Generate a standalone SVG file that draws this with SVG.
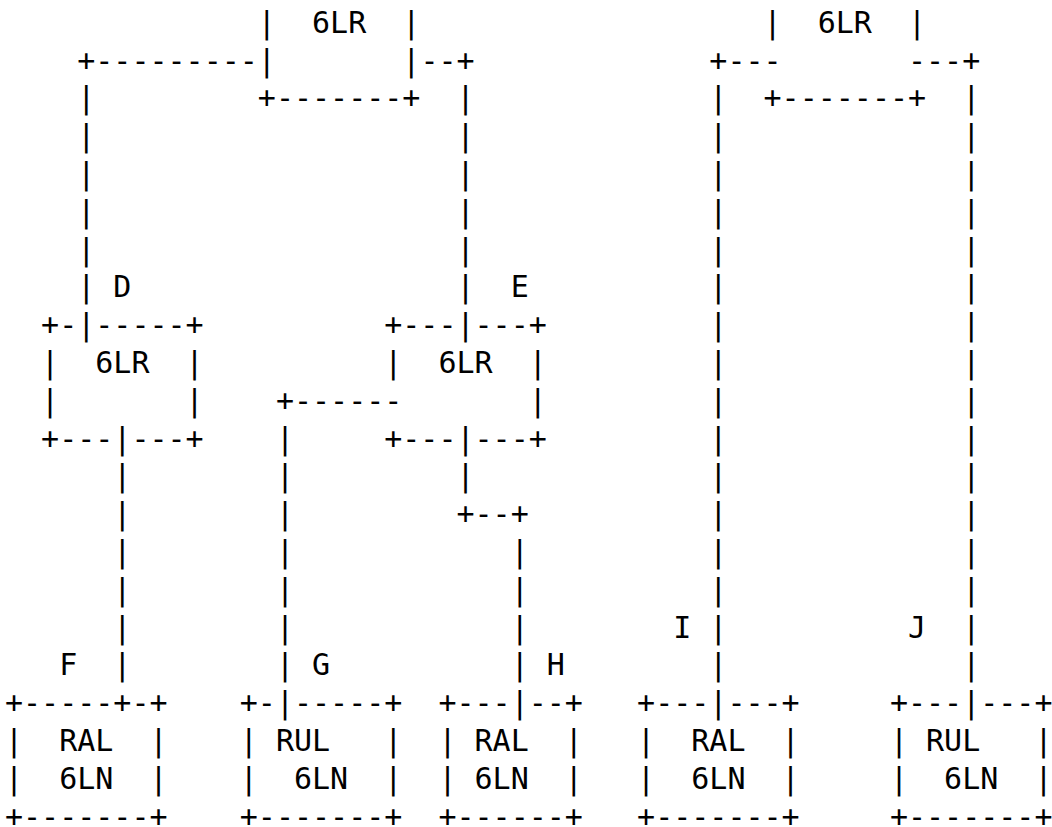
<svg xmlns="http://www.w3.org/2000/svg" width="1052" height="827" viewBox="0 0 1052 827" xml:space="preserve">
<style>
text { font-family: "DejaVu Sans Mono", "Liberation Mono", monospace; font-size: 30px; fill: #000; white-space: pre; }
</style>
<rect width="1052" height="827" fill="#fff"/>
<g id="connectors">
<text y="70.6"><tspan x="77.24">+---------</tspan><tspan x="420.38">--+</tspan><tspan x="709.34">+---</tspan><tspan x="908">---+</tspan></text>
<text y="108.4"><tspan x="77.24">|</tspan><tspan x="456.5">|</tspan><tspan x="709.34">|</tspan><tspan x="962.18">|</tspan></text>
<text y="146.2"><tspan x="77.24">|</tspan><tspan x="456.5">|</tspan><tspan x="709.34">|</tspan><tspan x="962.18">|</tspan></text>
<text y="184"><tspan x="77.24">|</tspan><tspan x="456.5">|</tspan><tspan x="709.34">|</tspan><tspan x="962.18">|</tspan></text>
<text y="221.8"><tspan x="77.24">|</tspan><tspan x="456.5">|</tspan><tspan x="709.34">|</tspan><tspan x="962.18">|</tspan></text>
<text y="259.6"><tspan x="77.24">|</tspan><tspan x="456.5">|</tspan><tspan x="709.34">|</tspan><tspan x="962.18">|</tspan></text>
<text y="297.4"><tspan x="77.24">|</tspan><tspan x="456.5">|</tspan><tspan x="709.34">|</tspan><tspan x="962.18">|</tspan></text>
<text y="335.2"><tspan x="709.34">|</tspan><tspan x="962.18">|</tspan></text>
<text y="373"><tspan x="709.34">|</tspan><tspan x="962.18">|</tspan></text>
<text y="410.8"><tspan x="275.9">+------</tspan><tspan x="709.34">|</tspan><tspan x="962.18">|</tspan></text>
<text y="448.6"><tspan x="275.9">|</tspan><tspan x="709.34">|</tspan><tspan x="962.18">|</tspan></text>
<text y="486.4"><tspan x="113.36">|</tspan><tspan x="275.9">|</tspan><tspan x="456.5">|</tspan><tspan x="709.34">|</tspan><tspan x="962.18">|</tspan></text>
<text y="524.2"><tspan x="113.36">|</tspan><tspan x="275.9">|</tspan><tspan x="456.5">+--+</tspan><tspan x="709.34">|</tspan><tspan x="962.18">|</tspan></text>
<text y="562"><tspan x="113.36">|</tspan><tspan x="275.9">|</tspan><tspan x="510.68">|</tspan><tspan x="709.34">|</tspan><tspan x="962.18">|</tspan></text>
<text y="599.8"><tspan x="113.36">|</tspan><tspan x="275.9">|</tspan><tspan x="510.68">|</tspan><tspan x="709.34">|</tspan><tspan x="962.18">|</tspan></text>
<text y="637.6"><tspan x="113.36">|</tspan><tspan x="275.9">|</tspan><tspan x="510.68">|</tspan><tspan x="709.34">|</tspan><tspan x="962.18">|</tspan></text>
<text y="675.4"><tspan x="113.36">|</tspan><tspan x="275.9">|</tspan><tspan x="510.68">|</tspan><tspan x="709.34">|</tspan><tspan x="962.18">|</tspan></text>
</g>
<g id="node-6LR-top-left">
<text x="257.84" y="32.8">|  6LR  |</text>
<text y="70.6"><tspan x="257.84">|</tspan><tspan x="402.32">|</tspan></text>
<text x="257.84" y="108.4">+-------+</text>
</g>
<g id="node-6LR-top-right">
<text x="763.52" y="32.8">|  6LR  |</text>
<text x="763.52" y="108.4">+-------+</text>
</g>
<g id="node-D">
<text x="113.36" y="297.4">D</text>
<text x="41.12" y="335.2">+-|-----+</text>
<text x="41.12" y="373">|  6LR  |</text>
<text y="410.8"><tspan x="41.12">|</tspan><tspan x="185.6">|</tspan></text>
<text x="41.12" y="448.6">+---|---+</text>
</g>
<g id="node-E">
<text x="510.68" y="297.4">E</text>
<text x="384.26" y="335.2">+---|---+</text>
<text x="384.26" y="373">|  6LR  |</text>
<text x="528.74" y="410.8">|</text>
<text x="384.26" y="448.6">+---|---+</text>
</g>
<g id="node-F">
<text x="59.18" y="675.4">F</text>
<text x="5" y="713.2">+-----+-+</text>
<text x="5" y="751">|  RAL  |</text>
<text x="5" y="788.8">|  6LN  |</text>
<text x="5" y="826.6">+-------+</text>
</g>
<g id="node-G">
<text x="312.02" y="675.4">G</text>
<text x="239.78" y="713.2">+-|-----+</text>
<text x="239.78" y="751">| RUL   |</text>
<text x="239.78" y="788.8">|  6LN  |</text>
<text x="239.78" y="826.6">+-------+</text>
</g>
<g id="node-H">
<text x="546.8" y="675.4">H</text>
<text x="438.44" y="713.2">+---|--+</text>
<text x="438.44" y="751">| RAL  |</text>
<text x="438.44" y="788.8">| 6LN  |</text>
<text x="438.44" y="826.6">+------+</text>
</g>
<g id="node-I">
<text x="673.22" y="637.6">I</text>
<text x="637.1" y="713.2">+---|---+</text>
<text x="637.1" y="751">|  RAL  |</text>
<text x="637.1" y="788.8">|  6LN  |</text>
<text x="637.1" y="826.6">+-------+</text>
</g>
<g id="node-J">
<text x="908" y="637.6">J</text>
<text x="889.94" y="713.2">+---|---+</text>
<text x="889.94" y="751">| RUL   |</text>
<text x="889.94" y="788.8">|  6LN  |</text>
<text x="889.94" y="826.6">+-------+</text>
</g>
</svg>
